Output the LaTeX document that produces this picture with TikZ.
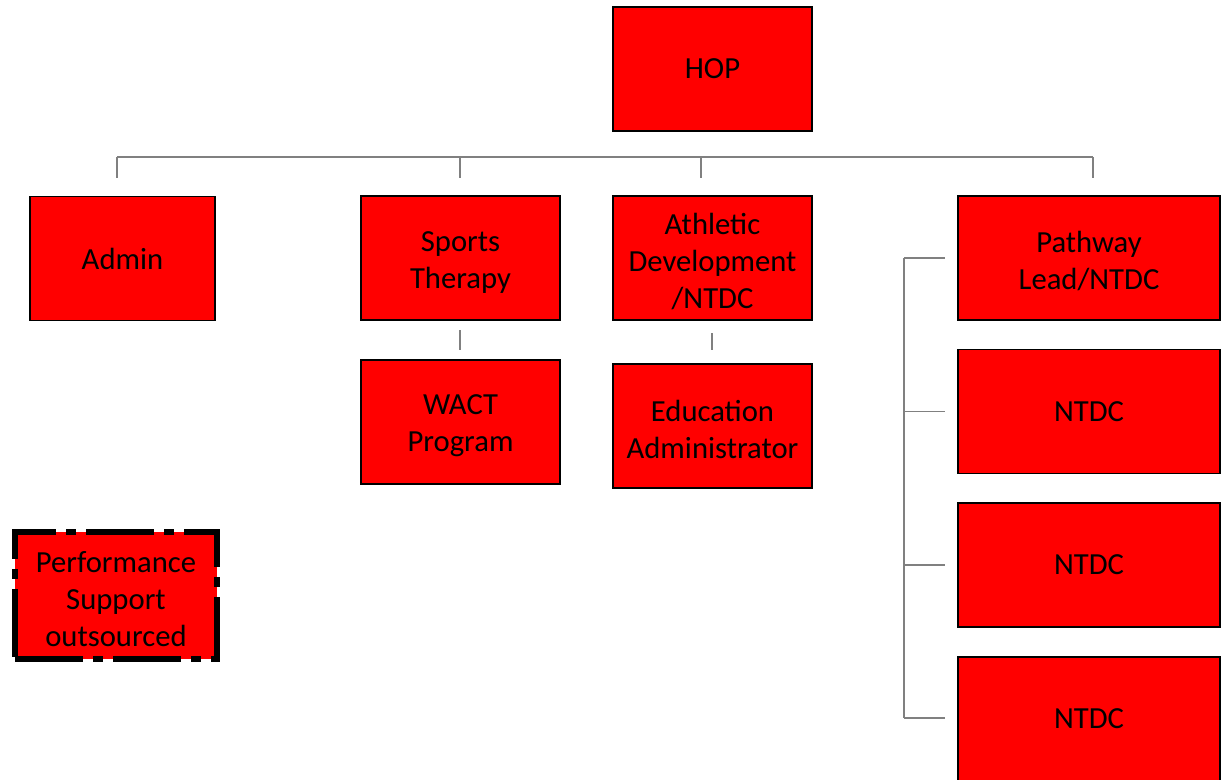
\documentclass[tikz,border=0pt]{standalone}
\usepackage{fontspec}
\setmainfont{Carlito}
\usepackage{xcolor}
\usepackage{tikz}

\definecolor{boxred}{HTML}{FF0000}
\definecolor{linkgrey}{HTML}{808080}
\newcommand{\lowtop}{\rule{0pt}{21pt}}

\begin{document}
\begin{tikzpicture}[x=0.75pt,y=-0.75pt,
  box/.style={rectangle,draw=black,line width=0.9pt,fill=boxred,align=center,
    minimum width=149.25pt,minimum height=93pt,inner sep=0pt,
    font=\fontsize{23}{27.75}\selectfont},
  widebox/.style={box,minimum width=196.5pt},
  link/.style={draw=linkgrey,line width=0.8pt}]
\useasboundingbox (0,0) rectangle (1228,779);
\node (hop) at (712.5,69) [box] {HOP};
\node (admin) at (122.5,258.5) [box,minimum width=138.75pt] {Admin};
\node (sports) at (460.5,258) [box] {\lowtop Sports\\Therapy};
\node (athletic) at (712.5,258) [box] {\lowtop Athletic\\Development\\/NTDC};
\node (pathway) at (1089,258) [widebox] {\lowtop Pathway\\Lead/NTDC};
\node (wact) at (460.5,422) [box] {\lowtop WACT\\Program};
\node (education) at (712.5,426) [box] {\lowtop Education\\Administrator};
\node (ntdc1) at (1089,411.5) [widebox] {NTDC};
\node (ntdc2) at (1089,565) [widebox] {NTDC};
\node (ntdc3) at (1089,719) [widebox] {NTDC};
\node (support) at (116,595.5) [box,minimum width=151.5pt,minimum height=95.25pt,
  line width=4.8pt,dash pattern=on 51pt off 7.5pt on 7.5pt off 7.5pt]
  {\lowtop Performance\\Support\\outsourced};
% top level bar
\coordinate (barL) at (117,157);
\coordinate (barR) at (1093,157);
\draw [link] (barL) -- (barR);
\draw [link] (117,157) -- (117,178);
\draw [link] (460,157) -- (460,178);
\draw [link] (701,157) -- (701,178);
\draw [link] (1093,157) -- (1093,178);
% second level
\draw [link] (460,330) -- (460,350);
\draw [link] (712,333) -- (712,350);
% pathway group
\coordinate (railT) at (904,258);
\coordinate (railB) at (904,718);
\draw [link] (railT) -- (railB);
\draw [link] (railT) -- (945,258);
\draw [link] (904,411.5) -- (945,411.5);
\draw [link] (904,565) -- (945,565);
\draw [link] (railB) -- (945,718);
\end{tikzpicture}
\end{document}
